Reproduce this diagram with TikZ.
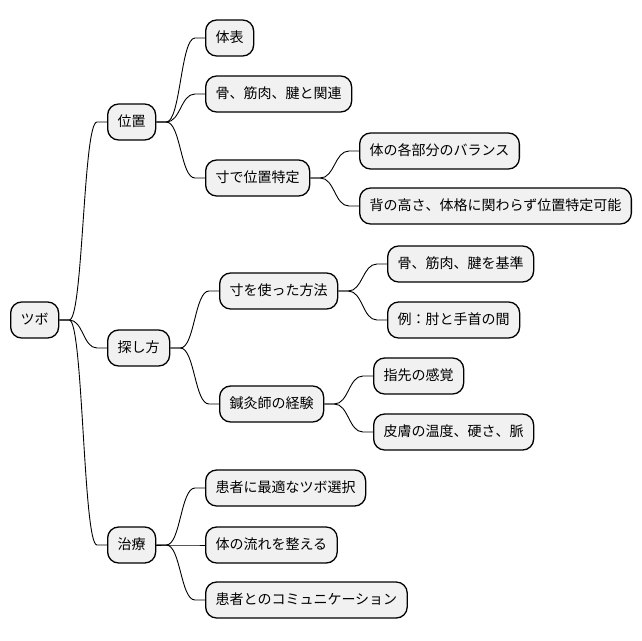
\documentclass[tikz,border=0pt]{standalone}
\usepackage{fontspec}
\newfontfamily\cjk{Noto Sans CJK JP}
\usetikzlibrary{calc}
\definecolor{boxfill}{HTML}{F1F1F1}
\tikzset{
  box/.style={draw=black, line width=1.3pt, fill=boxfill, rounded corners=11pt,
    minimum height=36pt, inner xsep=10pt, inner ysep=0pt, anchor=west,
    font=\cjk\fontsize{14pt}{16pt}\selectfont, text height=11pt, text depth=2pt},
  link/.style={draw=black, line width=0.9pt}
}
\newcommand\conn[2]{%
  \path ($(#1.east)!0.5!(#2.west)$) coordinate (m);
  \draw[link] (#1.east) -- ++(10,0) .. controls (m |- #1.east) and (m |- #2.west) .. ([xshift=-10pt]#2.west) -- (#2.west);}
\begin{document}
\begin{tikzpicture}[x=1pt,y=-1pt]
\useasboundingbox (0,0) rectangle (642,640);
\node[box] (tsubo) at (10,320) {ツボ};
\node[box] (ichi) at (107,122) {位置};
\node[box] (sagashi) at (107,348) {探し方};
\node[box] (chiryo) at (107,545) {治療};
\node[box] (taihyo) at (205,38) {体表};
\node[box] (hone1) at (205,94) {骨、筋肉、腱と関連};
\node[box] (sun1) at (205,178) {寸で位置特定};
\node[box] (bal) at (359,151) {体の各部分のバランス};
\node[box] (se) at (359,206) {背の高さ、体格に関わらず位置特定可能};
\node[box] (sun2) at (219,291) {寸を使った方法};
\node[box] (hone2) at (387,264) {骨、筋肉、腱を基準};
\node[box] (rei) at (387,320) {例：肘と手首の間};
\node[box] (shinkyu) at (219,404) {鍼灸師の経験};
\node[box] (yubi) at (373,376) {指先の感覚};
\node[box] (hifu) at (373,432) {皮膚の温度、硬さ、脈};
\node[box] (kanja1) at (205,488) {患者に最適なツボ選択};
\node[box] (nagare) at (205,545) {体の流れを整える};
\node[box] (kanja2) at (205,600) {患者とのコミュニケーション};
\conn{tsubo}{ichi}
\conn{tsubo}{sagashi}
\conn{tsubo}{chiryo}
\conn{ichi}{taihyo}
\conn{ichi}{hone1}
\conn{ichi}{sun1}
\conn{sun1}{bal}
\conn{sun1}{se}
\conn{sagashi}{sun2}
\conn{sagashi}{shinkyu}
\conn{sun2}{hone2}
\conn{sun2}{rei}
\conn{shinkyu}{yubi}
\conn{shinkyu}{hifu}
\conn{chiryo}{kanja1}
\conn{chiryo}{nagare}
\conn{chiryo}{kanja2}
\end{tikzpicture}
\end{document}
